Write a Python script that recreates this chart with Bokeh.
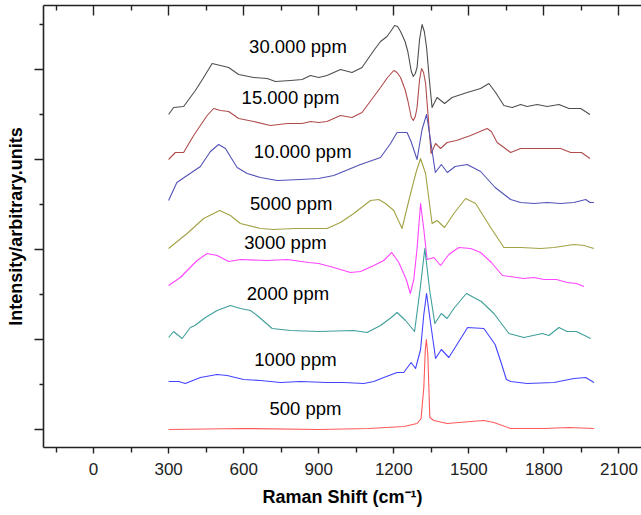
from bokeh.plotting import figure
from bokeh.models import LinearAxis, FixedTicker, Range1d, ColumnDataSource
from bokeh.embed import file_html
from bokeh.resources import INLINE
from bokeh.core.properties import value

# ---- data (Raman shift in cm-1, stacked intensity in arbitrary units) ----
shift_30000 = [300, 320, 360, 407, 440, 474, 507, 540, 580, 640, 694, 727, 787, 834, 867, 900, 933, 987, 1033, 1073,
               1120, 1147, 1173, 1190, 1203, 1215, 1227, 1245, 1256, 1270, 1278, 1286, 1293, 1303, 1313, 1322, 1331,
               1342, 1353, 1373, 1403, 1433, 1493, 1547, 1580, 1607, 1640, 1673, 1707, 1733, 1773, 1813, 1860, 1900,
               1947, 1984]
int_30000 = [315, 322, 323, 339, 352, 366, 364, 362, 355, 352, 351, 348, 349, 350, 354, 352, 354, 360, 357, 362,
             379, 388, 393, 399, 404, 403, 398, 388, 378, 358, 353, 356, 362, 390, 405, 398, 382,
             350, 322, 332, 326, 332, 337, 341, 346, 337, 324, 322, 325, 323, 325, 323, 325, 321,
             321, 315]

shift_15000 = [300, 327, 360, 400, 454, 480, 507, 540, 580, 640, 707, 774, 834, 867, 900, 933, 987, 1033, 1073, 1147,
               1175, 1200, 1213, 1227, 1245, 1256, 1270, 1278, 1286, 1293, 1303, 1311, 1319, 1327, 1340, 1349, 1367,
               1387, 1413, 1450, 1507, 1573, 1590, 1613, 1667, 1707, 1747, 1813, 1867, 1907, 1950, 1984]
int_15000 = [270, 277, 277, 294, 314, 321, 319, 318, 311, 308, 304, 306, 306, 308, 307, 308, 314, 312, 317, 342,
             352, 359, 357, 352, 340, 329, 312, 309, 313, 322, 350, 361, 357, 346, 305, 276, 286,
             281, 287, 289, 294, 301, 298, 287, 277, 281, 281, 281, 281, 277, 277, 271]

shift_10000 = [300, 333, 374, 427, 467, 500, 527, 574, 614, 667, 734, 827, 900, 960, 1067, 1147, 1187, 1213, 1253,
               1269, 1293, 1313, 1331, 1347, 1366, 1390, 1414, 1445, 1493, 1547, 1605, 1667, 1707, 1760, 1813, 1867,
               1920, 1967, 1984, 2000]
int_10000 = [229, 247, 254, 263, 278, 285, 281, 262, 256, 252, 249, 250, 251, 254, 265, 272, 286, 297, 297,
             288, 270, 300, 315, 289, 257, 265, 257, 263, 265, 258, 242, 230, 227, 226, 227, 226,
             227, 230, 227, 227]

shift_5000 = [300, 374, 440, 480, 504, 547, 587, 667, 720, 800, 867, 933, 987, 1040, 1107, 1140, 1167, 1200, 1233,
              1267, 1290, 1307, 1327, 1353, 1373, 1403, 1440, 1487, 1527, 1587, 1640, 1707, 1787, 1840, 1920, 1960,
              2000]
int_5000 = [181, 196, 211, 216, 219, 214, 206, 201, 200, 201, 201, 201, 207, 216, 229, 230, 226, 219, 201,
            236, 258, 271, 256, 206, 209, 202, 216, 231, 226, 202, 182, 182, 181, 182, 185, 184,
            181]

shift_3000 = [300, 347, 414, 454, 494, 540, 587, 694, 774, 860, 900, 960, 1027, 1067, 1120, 1160, 1192, 1220, 1250,
              1266, 1280, 1293, 1307, 1320, 1333, 1360, 1387, 1420, 1460, 1507, 1547, 1590, 1634, 1720, 1760, 1800,
              1850, 1893, 1930, 1960]
int_3000 = [144, 152, 169, 176, 174, 168, 170, 169, 170, 167, 166, 162, 157, 158, 164, 169, 177, 167, 150,
            136, 150, 181, 226, 200, 170, 172, 164, 175, 182, 181, 177, 167, 154, 151, 152, 150,
            150, 147, 146, 143]

shift_2000 = [300, 320, 354, 387, 405, 447, 494, 547, 587, 627, 654, 714, 787, 900, 1040, 1093, 1147, 1190, 1213,
              1247, 1283, 1305, 1324, 1343, 1364, 1390, 1413, 1440, 1490, 1550, 1600, 1660, 1720, 1793, 1820, 1860,
              1893, 1930, 1987]
int_2000 = [92, 98, 91, 102, 104, 112, 119, 124, 121, 119, 114, 101, 99, 98, 99, 97, 104, 112, 117,
            109, 98, 140, 181, 140, 106, 116, 111, 121, 136, 128, 116, 96, 92, 96, 94, 102,
            98, 98, 91]

shift_1000 = [300, 340, 367, 427, 494, 534, 600, 667, 747, 827, 933, 1000, 1080, 1120, 1160, 1213, 1240, 1269, 1287,
              1307, 1320, 1331, 1345, 1367, 1390, 1420, 1450, 1495, 1560, 1605, 1630, 1650, 1667, 1733, 1840, 1920,
              1967, 2000]
int_1000 = [48, 48, 46, 52, 55, 54, 50, 49, 47, 48, 47, 47, 46, 48, 52, 57, 57, 67, 61,
            80, 115, 136, 110, 71, 80, 72, 84, 102, 101, 85, 66, 50, 48, 46, 47, 51,
            52, 47]

shift_500 = [300, 600, 900, 1100, 1240, 1293, 1309, 1320, 1326, 1330, 1336, 1344, 1360, 1413, 1507, 1560, 1600,
             1667, 1800, 1900, 2000]
int_500 = [0, 1, 0, 1, 3, 6, 11, 42, 80, 90, 75, 12, 9, 6, 8, 9, 7, 1, 1, 2, 1]

labels = ["30.000 ppm", "15.000 ppm", "10.000 ppm", "5000 ppm", "3000 ppm", "2000 ppm", "1000 ppm", "500 ppm"]
x_ticks = [0, 300, 600, 900, 1200, 1500, 1800, 2100]

# ---- styling / placement ----
shifts = [shift_30000, shift_15000, shift_10000, shift_5000, shift_3000, shift_2000, shift_1000, shift_500]
ints = [int_30000, int_15000, int_10000, int_5000, int_3000, int_2000, int_1000, int_500]
colors = ["#4f4f4f", "#b04c4c", "#5252b8", "#a2a244", "#ff44ff", "#3f9f9a", "#4444ff", "#ff5a5a"]
label_x = [817, 787, 836, 790, 767, 777, 807, 847]
label_y = [383, 332, 278, 226, 187, 136, 70, 21]

FONT = "Liberation Sans"

p = figure(width=641, height=515, x_range=Range1d(-200, 2190), y_range=Range1d(-18, 424),
           output_backend="svg", toolbar_location=None,
           min_border_left=43, min_border_right=0, min_border_top=5, min_border_bottom=68)
p.styles = {"position": "absolute", "left": "0px", "top": "0px"}
p.outline_line_color = None
p.xgrid.visible = False
p.ygrid.visible = False
p.background_fill_color = "white"
p.border_fill_color = "white"

for xs, ys, c in zip(shifts, ints, colors):
    p.line(xs, ys, line_color=c, line_width=1.1, line_join="round")

src = ColumnDataSource(dict(x=label_x, y=label_y, t=labels))
p.text(x="x", y="y", text="t", source=src, text_font=value(FONT), text_font_size="18.5px",
       text_align="center", text_baseline="middle", text_color="black")

xminor = [-150, 150, 450, 750, 1050, 1350, 1650, 1950]

xa = p.xaxis[0]
xa.ticker = FixedTicker(ticks=x_ticks, minor_ticks=xminor)
xa.axis_label = "Raman Shift (cm\u207b\u00b9)"
xa.axis_label_text_font = FONT
xa.axis_label_text_font_style = "bold"
xa.axis_label_text_font_size = "18px"
xa.major_label_text_font = FONT
xa.major_label_text_font_size = "17px"
xa.major_tick_in = 0
xa.major_tick_out = 6
xa.minor_tick_in = 0
xa.minor_tick_out = 5
xa.major_label_standoff = 9
xa.axis_label_standoff = 9

ya = p.yaxis[0]
ya.ticker = FixedTicker(ticks=[0, 90, 180, 270, 360], minor_ticks=[45, 135, 225, 315, 405])
ya.axis_label = "Intensity/arbitrary.units"
ya.axis_label_text_font = FONT
ya.axis_label_text_font_style = "bold"
ya.axis_label_text_font_size = "18px"
ya.major_label_standoff = 0
ya.major_tick_in = 0
ya.major_tick_out = 9
ya.minor_tick_in = 0
ya.minor_tick_out = 4
ya.axis_label_standoff = 9

top = LinearAxis(ticker=FixedTicker(ticks=x_ticks, minor_ticks=xminor), major_label_standoff=0,
                 major_tick_in=10, major_tick_out=0, minor_tick_in=5, minor_tick_out=0)
p.add_layout(top, "above")

for ax in (xa, ya, top):
    ax.axis_line_color = "#222222"
    ax.axis_line_width = 1.6
    ax.major_tick_line_color = "#222222"
    ax.major_tick_line_width = 1.4
    ax.minor_tick_line_color = "#222222"
    ax.minor_tick_line_width = 1.4
    ax.axis_label_text_color = "black"
    ax.major_label_text_color = "#222222"

# axes without tick labels: keep the ticks, draw no label text
for ax in (ya, top):
    ax.major_label_text_font_size = "1px"
    ax.major_label_text_color = None

open("out.html", "w").write(file_html(p, INLINE))
